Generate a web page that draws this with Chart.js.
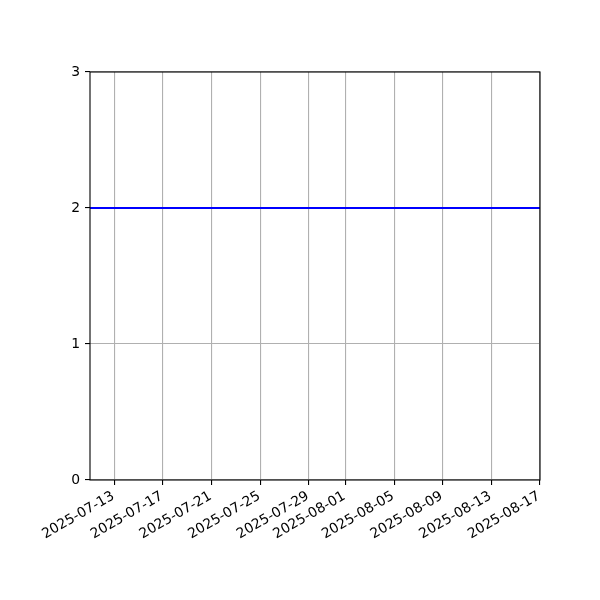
<!DOCTYPE html>
<html>
<head>
<meta charset="utf-8">
<script src="https://cdn.jsdelivr.net/npm/chart.js@4/dist/chart.umd.min.js"></script>
<style>
  html, body { margin: 0; padding: 0; background: #fff; }
  #c { display: block; }
</style>
</head>
<body>
<canvas id="c" width="600" height="600"></canvas>
<script>
// Donnees
const dates = ['2025-07-11', '2025-08-17'];
const values = [2, 2];
const tickDates = ['2025-07-13', '2025-07-17', '2025-07-21', '2025-07-25', '2025-07-29',
                   '2025-08-01', '2025-08-05', '2025-08-09', '2025-08-13', '2025-08-17'];
const yTicks = [0, 1, 2, 3];

// jours depuis l'epoque, pour une echelle lineaire (pas d'adaptateur de dates)
function toDay(s) {
    const p = s.split('-').map(Number);
    return Date.UTC(p[0], p[1] - 1, p[2]) / 86400000;
}
function fromDay(d) {
    return new Date(d * 86400000).toISOString().slice(0, 10);
}

const points = dates.map((d, i) => ({ x: toDay(d), y: values[i] }));
const font = { family: 'DejaVu Sans', size: 13.9 };

// cadre noir autour de la zone de tracé
const frame = {
    id: 'frame',
    afterDraw(chart) {
        const a = chart.chartArea;
        const ctx = chart.ctx;
        ctx.save();
        ctx.strokeStyle = '#000';
        ctx.lineWidth = 1.1;
        ctx.strokeRect(a.left, a.top, a.right - a.left, a.bottom - a.top);
        ctx.restore();
    }
};

new Chart(document.getElementById('c').getContext('2d'), {
    type: 'line',
    data: {
        datasets: [{
            data: points,
            borderColor: '#0000ff',
            borderWidth: 2,
            pointRadius: 0,
            tension: 0
        }]
    },
    options: {
        responsive: false,
        animation: false,
        layout: { padding: { top: 72, right: 60, left: 0, bottom: 0 } },
        plugins: { legend: { display: false }, tooltip: { enabled: false } },
        scales: {
            x: {
                type: 'linear',
                min: toDay(dates[0]),
                max: toDay(dates[dates.length - 1]),
                afterBuildTicks: s => { s.ticks = tickDates.map(d => ({ value: toDay(d) })); },
                afterFit: s => { s.height = 120; s.paddingLeft = 0; s.paddingRight = 0; },
                grid: { color: '#b0b0b0', lineWidth: 1.1, tickColor: '#000', tickLength: 5 },
                border: { display: false },
                ticks: {
                    font: font,
                    color: '#000',
                    minRotation: 30,
                    maxRotation: 30,
                    autoSkip: false,
                    padding: 3,
                    labelOffset: -1,
                    callback: v => fromDay(v)
                }
            },
            y: {
                min: 0,
                max: 3,
                afterBuildTicks: s => { s.ticks = yTicks.map(v => ({ value: v })); },
                afterFit: s => { s.width = 90; },
                grid: { color: '#b0b0b0', lineWidth: 1.1, tickColor: '#000', tickLength: 5 },
                border: { display: false },
                ticks: { font: font, color: '#000', padding: 5 }
            }
        }
    },
    plugins: [frame]
});
</script>
</body>
</html>
